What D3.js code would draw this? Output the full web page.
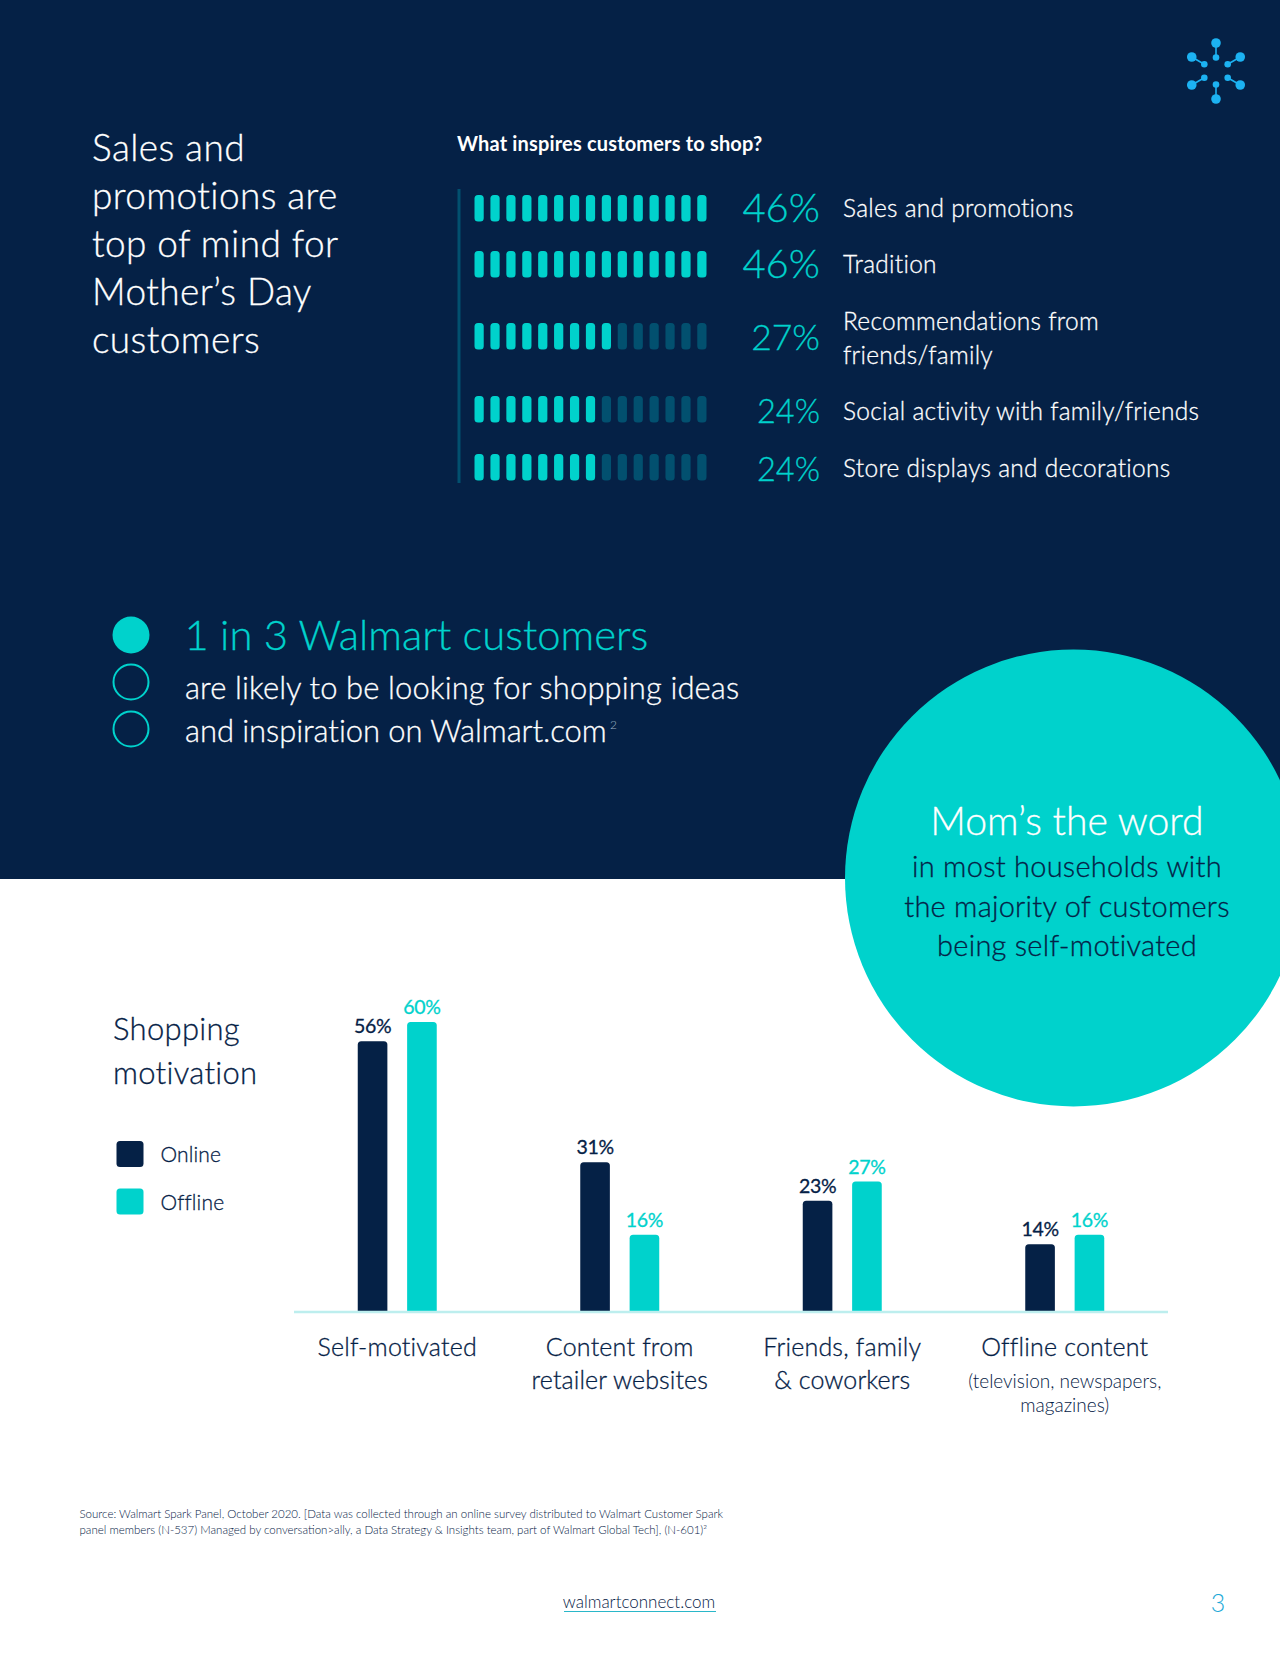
<!DOCTYPE html>
<html>
<head>
<meta charset="utf-8">
<script src="https://cdn.jsdelivr.net/npm/d3@7"></script>
<style>
  html, body { margin: 0; padding: 0; background: #fff; }
  svg { display: block; }
  text { font-family: Lato, "Open Sans", sans-serif; font-weight: 300; }
</style>
</head>
<body>
<div id="chart"></div>
<script>
/* Data */
const titleLines = ["Sales and", "promotions are", "top of mind for", "Mother’s Day", "customers"]
const inspireLabels = [["Sales and promotions"], ["Tradition"], ["Recommendations from", "friends/family"], ["Social activity with family/friends"], ["Store displays and decorations"]]
const inspireValues = [46, 46, 27, 24, 24]
const inspireFontSizes = [40, 40, 35.5, 32.5, 32.5]
const inspireRowTops = [195, 251, 323, 396, 454]
const inspireLabelBaselines = [21.5, 21.5, 7, 23.5, 22.5]

const categories = ["Self-motivated", "Content from", "Friends, family", "Offline content"]
const categorySecondLines = ["", "retailer websites", "& coworkers", ""]
const categoryNotes = ["", "", "", "(television, newspapers,|magazines)"]
const online = [56, 31, 23, 14]
const offline = [60, 16, 27, 16]
const seriesNames = ["Online", "Offline"]

const ratioDots = [1, 0, 0]
const sourceLines = [
  "Source: Walmart Spark Panel, October 2020. [Data was collected through an online survey distributed to Walmart Customer Spark",
  "panel members (N-537) Managed by conversation>ally, a Data Strategy & Insights team, part of Walmart Global Tech], (N-601)²"
]

/* Colours */
const navy = "#052146"
const teal = "#00d2cc"
const dimTeal = "#02506f"
const sky = "#1cb2f2"

const width = 1280
const height = 1656

const svg = d3.select("#chart").append("svg")
    .attr("width", width)
    .attr("height", height)

svg.append("rect").attr("width", width).attr("height", height).attr("fill", "#fff")
svg.append("rect").attr("width", width).attr("height", 879).attr("fill", navy)

/* Logo */
const logo = svg.append("g").attr("transform", "translate(1216,71)")
d3.range(6).forEach(i => {
  const a = (i * 60 - 90) * Math.PI / 180
  const c = Math.cos(a), s = Math.sin(a)
  logo.append("line")
      .attr("x1", 13.5 * c).attr("y1", 13.5 * s)
      .attr("x2", 28 * c).attr("y2", 28 * s)
      .attr("stroke", sky).attr("stroke-width", 1.6)
  logo.append("circle").attr("cx", 28 * c).attr("cy", 28 * s).attr("r", 4.8).attr("fill", sky)
  logo.append("circle").attr("cx", 13.5 * c).attr("cy", 13.5 * s).attr("r", 3.3).attr("fill", sky)
})

/* Left heading */
svg.append("g").selectAll("text")
    .data(titleLines)
    .enter().append("text")
    .attr("class", "heavy")
    .attr("x", 92)
    .attr("y", (d, i) => 161 + i * 48)
    .attr("fill", "#fff")
    .style("font-size", "37px")
    .style("letter-spacing", "0.4px")
    .text(d => d)

/* What inspires customers */
svg.append("text")
    .attr("x", 457).attr("y", 151)
    .attr("fill", "#fff")
    .style("font-size", "20px")
    .style("font-weight", "700")
    .style("letter-spacing", "0.17px")
    .text("What inspires customers to shop?")

svg.append("line")
    .attr("x1", 459).attr("x2", 459)
    .attr("y1", 189).attr("y2", 483)
    .attr("stroke", dimTeal).attr("stroke-width", 3)

const segments = d3.range(15)
const segScale = d3.scaleBand()
    .domain(segments)
    .range([474.5, 706.5])
    .paddingInner(0.42)
// number of lit segments, top value lights the whole row
const litScale = d3.scaleLinear().domain([0, d3.max(inspireValues)]).range([0, segments.length])

const rows = svg.append("g").selectAll("g")
    .data(inspireValues)
    .enter().append("g")
    .attr("transform", (d, i) => `translate(0,${inspireRowTops[i]})`)

rows.selectAll("rect")
    .data(d => segments.map(s => ({ s, lit: s < Math.round(litScale(d)) })))
    .enter().append("rect")
    .attr("x", d => segScale(d.s))
    .attr("width", segScale.bandwidth())
    .attr("height", 26.5)
    .attr("rx", 3.5)
    .attr("fill", d => d.lit ? teal : dimTeal)

rows.append("text")
    .attr("class", "heavy")
    .attr("x", 820)
    .attr("y", 26.5)
    .attr("text-anchor", "end")
    .attr("fill", teal)
    .style("font-size", (d, i) => inspireFontSizes[i] + "px")
    .text(d => d + "%")

rows.each(function(d, i) {
  d3.select(this).selectAll(".lab")
      .data(inspireLabels[i])
      .enter().append("text")
      .attr("class", "lab heavy")
      .attr("x", 843)
      .attr("y", (l, j) => inspireLabelBaselines[i] + j * 34)
      .attr("fill", "#fff")
      .style("font-size", "24.5px")
      .style("letter-spacing", "0.27px")
      .text(l => l)
})

/* 1 in 3 */
svg.append("g").selectAll("circle")
    .data(ratioDots)
    .enter().append("circle")
    .attr("cx", 131)
    .attr("cy", (d, i) => 635 + i * 47)
    .attr("r", d => d ? 18.5 : 17.5)
    .attr("fill", d => d ? teal : "none")
    .attr("stroke", teal)
    .attr("stroke-width", d => d ? 0 : 2)

svg.append("text").attr("class", "heavy").attr("x", 184.5).attr("y", 650)
    .attr("fill", teal).style("font-size", "41.8px")
    .text("1 in 3 Walmart customers")
svg.append("text").attr("class", "heavy").attr("x", 185).attr("y", 699)
    .attr("fill", "#fff").style("font-size", "31px")
    .style("letter-spacing", "0.1px")
    .text("are likely to be looking for shopping ideas")
svg.append("text").attr("class", "heavy").attr("x", 185).attr("y", 742)
    .attr("fill", "#fff").style("font-size", "31px")
    .style("letter-spacing", "-0.07px")
    .text("and inspiration on Walmart.com")
svg.append("text").attr("x", 610).attr("y", 729)
    .attr("fill", "#9fb0c2").style("font-size", "12px")
    .text("2")

/* Big circle */
svg.append("circle")
    .attr("cx", 1073.5).attr("cy", 878).attr("r", 228.5)
    .attr("fill", teal)
svg.append("text").attr("class", "heavy").attr("x", 1067).attr("y", 835)
    .attr("text-anchor", "middle").attr("fill", "#fff")
    .style("font-size", "39.2px")
    .text("Mom’s the word")
svg.append("g").selectAll("text")
    .data(["in most households with", "the majority of customers", "being self-motivated"])
    .enter().append("text")
    .attr("class", "heavy")
    .attr("x", 1067)
    .attr("y", (d, i) => 877 + i * 39.5)
    .attr("text-anchor", "middle")
    .attr("fill", navy)
    .style("font-size", "29px")
    .style("letter-spacing", "0.25px")
    .text(d => d)

/* Shopping motivation legend */
svg.append("g").selectAll("text")
    .data(["Shopping", "motivation"])
    .enter().append("text")
    .attr("class", "heavy")
    .attr("x", 113)
    .attr("y", (d, i) => 1040 + i * 44)
    .attr("fill", navy)
    .style("font-size", "31px")
    .style("letter-spacing", "0.3px")
    .text(d => d)

const legend = svg.append("g").selectAll("g")
    .data(seriesNames)
    .enter().append("g")
    .attr("transform", (d, i) => `translate(116.5,${1141 + i * 47.5})`)
legend.append("rect")
    .attr("width", 27).attr("height", 26).attr("rx", 3.5)
    .attr("fill", (d, i) => i ? teal : navy)
legend.append("text")
    .attr("class", "heavy")
    .attr("x", 44).attr("y", 21)
    .attr("fill", navy)
    .style("font-size", "21px")
    .style("letter-spacing", "0.15px")
    .text(d => d)

/* Bars */
const x0 = d3.scaleBand().domain(categories).range([286, 1176])
const x1 = d3.scaleBand().domain(seriesNames).range([-39.5, 39.5]).paddingInner(0.4)
const y = d3.scaleLinear().domain([0, 60]).range([1312, 1022])

const groups = svg.append("g").selectAll("g")
    .data(categories)
    .enter().append("g")
    .attr("transform", d => `translate(${x0(d) + x0.bandwidth() / 2},0)`)

const roundTop = (x, top, w, r) =>
  `M${x},${y(0)}V${top + r}Q${x},${top} ${x + r},${top}H${x + w - r}Q${x + w},${top} ${x + w},${top + r}V${y(0)}Z`

seriesNames.forEach((name, si) => {
  const vals = si ? offline : online
  const color = si ? teal : navy
  groups.append("path")
      .attr("d", (d, i) => roundTop(x1(name), y(vals[i]), x1.bandwidth(), 3.5))
      .attr("fill", color)
  groups.append("text")
      .attr("class", "heavy")
      .attr("x", x1(name) + x1.bandwidth() / 2)
      .attr("y", (d, i) => y(vals[i]) - 8)
      .attr("text-anchor", "middle")
      .attr("fill", color)
      .style("font-size", "19.5px")
      .style("font-weight", "400")
      .style("letter-spacing", "-0.3px")
      .text((d, i) => vals[i] + "%")
})

svg.append("line")
    .attr("x1", 294).attr("x2", 1168)
    .attr("y1", y(0)).attr("y2", y(0))
    .attr("stroke", "#bdeeee").attr("stroke-width", 2.5)

groups.append("text")
    .attr("class", "heavy")
    .attr("y", 1356)
    .attr("text-anchor", "middle")
    .attr("fill", navy)
    .style("font-size", "25px")
    .style("letter-spacing", "0.2px")
    .text(d => d)
groups.append("text")
    .attr("class", "heavy")
    .attr("y", 1389)
    .attr("text-anchor", "middle")
    .attr("fill", navy)
    .style("font-size", "25px")
    .style("letter-spacing", "0.1px")
    .text((d, i) => categorySecondLines[i])
groups.each(function(d, i) {
  d3.select(this).selectAll(".note")
      .data(categoryNotes[i] ? categoryNotes[i].split("|") : [])
      .enter().append("text")
      .attr("class", "note")
      .attr("y", (l, j) => 1388 + j * 24)
      .attr("text-anchor", "middle")
      .attr("fill", navy)
      .style("font-size", "19px")
      .text(l => l)
})

/* Footer */
svg.append("g").selectAll("text")
    .data(sourceLines)
    .enter().append("text")
    .attr("x", 79.5)
    .attr("y", (d, i) => 1517.5 + i * 16)
    .attr("fill", navy)
    .style("font-size", "11.5px")
    .text(d => d)

svg.append("text").attr("x", 639).attr("y", 1607.5)
    .attr("text-anchor", "middle").attr("fill", navy)
    .style("font-size", "17px")
    .text("walmartconnect.com")
svg.append("line")
    .attr("x1", 564).attr("x2", 716)
    .attr("y1", 1611.5).attr("y2", 1611.5)
    .attr("stroke", "#2ab7c9").attr("stroke-width", 1)
svg.append("text").attr("x", 1218).attr("y", 1612)
    .attr("text-anchor", "middle").attr("fill", "#1ca9d8")
    .style("font-size", "25px")
    .text("3")

// the original face is a bit heavier than Lato Light
svg.selectAll("text.heavy")
    .attr("stroke", function() { return d3.select(this).attr("fill") })
    .attr("stroke-width", 0.3)
</script>
</body>
</html>
